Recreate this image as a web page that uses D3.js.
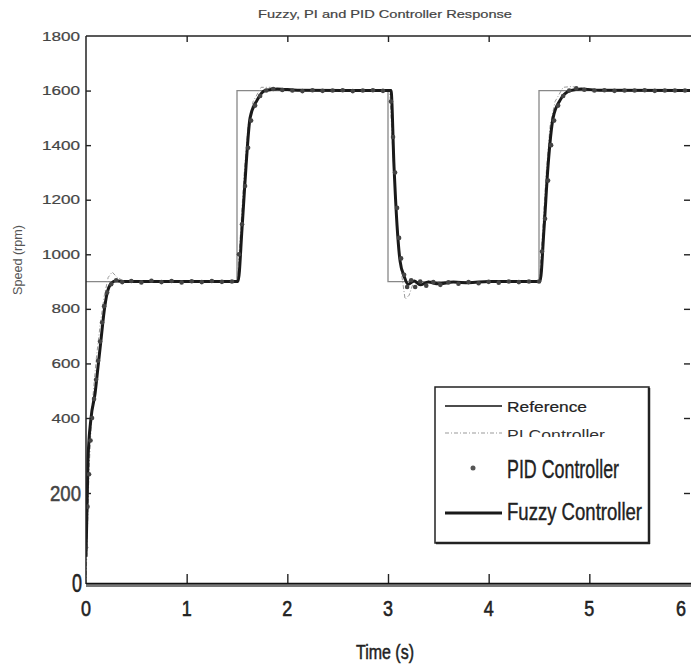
<!DOCTYPE html>
<html><head><meta charset="utf-8">
<script src="https://cdn.jsdelivr.net/npm/d3@7"></script>
<style>body{margin:0;background:#fff}svg{display:block}</style>
</head><body>
<svg id="c" width="691" height="665"></svg>
<script>
// ---- data ----
const xTicks = [0, 1, 2, 3, 4, 5, 6];
const yTicks = [0, 200, 400, 600, 800, 1000, 1200, 1400, 1600, 1800];
const refTimes = [0, 1.5, 3, 4.5, 6];
const refValues = [900, 1600, 900, 1600, 1600];
const fuzzySeries = [[0,60],[0.02,290],[0.05,400],[0.09,490],[0.12,590],[0.15,690],[0.18,790],[0.21,858],[0.25,893],[0.3,903],[0.38,900],[1.51,900],[1.55,1095],[1.59,1325],[1.63,1500],[1.70,1565],[1.78,1600],[1.9,1606],[2.1,1601],[3.03,1600],[3.06,1320],[3.09,1105],[3.12,975],[3.16,920],[3.2,890],[3.26,902],[3.32,888],[3.4,898],[3.5,892],[3.65,898],[3.8,896],[4.0,900],[4.51,900],[4.55,1095],[4.59,1325],[4.64,1500],[4.71,1565],[4.81,1600],[4.92,1606],[5.1,1601],[6,1600]];
const piSeries = [[0,0],[0.03,260],[0.06,440],[0.1,610],[0.14,740],[0.18,845],[0.22,915],[0.26,935],[0.31,915],[0.4,897],[0.5,901],[1.5,900],[1.53,1050],[1.57,1290],[1.61,1470],[1.66,1560],[1.74,1612],[1.83,1612],[1.95,1601],[3.0,1600],[3.02,1580],[3.05,1360],[3.09,1110],[3.13,940],[3.17,835],[3.21,850],[3.26,905],[3.32,893],[3.4,902],[3.5,899],[4.5,900],[4.53,1050],[4.57,1290],[4.61,1470],[4.66,1560],[4.74,1612],[4.83,1615],[4.95,1601],[6,1600]];
const pidSeries = [[0,80],[0.015,170],[0.03,250],[0.045,340],[0.06,400],[0.08,470],[0.10,540],[0.12,610],[0.14,680],[0.16,750],[0.18,810],[0.21,860],[0.25,890],[0.3,905],[0.36,898],[0.45,902],[0.55,897],[0.65,903],[0.75,898],[0.85,902],[0.95,897],[1.05,901],[1.15,898],[1.25,902],[1.35,899],[1.45,900],[1.52,1000],[1.55,1110],[1.58,1250],[1.61,1390],[1.64,1490],[1.68,1545],[1.73,1580],[1.79,1600],[1.86,1606],[1.95,1602],[2.05,1600],[2.15,1598],[2.25,1601],[2.35,1599],[2.45,1600],[2.55,1601],[2.65,1598],[2.75,1600],[2.85,1601],[2.95,1599],[3.03,1560],[3.05,1430],[3.07,1300],[3.09,1170],[3.11,1060],[3.13,985],[3.16,925],[3.19,880],[3.23,905],[3.27,880],[3.32,900],[3.38,885],[3.45,898],[3.52,888],[3.6,897],[3.7,892],[3.8,898],[3.9,894],[4.0,899],[4.1,896],[4.2,900],[4.3,898],[4.4,900],[4.5,900],[4.53,1010],[4.56,1130],[4.59,1270],[4.62,1400],[4.65,1490],[4.69,1545],[4.74,1580],[4.8,1600],[4.87,1608],[4.95,1603],[5.05,1600],[5.15,1601],[5.25,1599],[5.35,1600],[5.45,1600],[5.55,1601],[5.65,1599],[5.75,1600],[5.85,1600],[5.95,1600]];
const legendLabels = ["Reference", "PI Controller", "PID Controller", "Fuzzy Controller"];
const titleText = "Fuzzy, PI and PID Controller Response";
const xLabel = "Time (s)";
const yLabel = "Speed (rpm)";

// ---- drawing ----
const svg = d3.select("#c");
svg.append("rect").attr("width",691).attr("height",665).attr("fill","#fff");
const L = 86, R = 690, T = 36, B = 584;
const x = d3.scaleLinear().domain([0, 6]).range([L, R]);
// the scanned figure's vertical scale is compressed differently below 400
const y = d3.scaleLinear().domain([0, 200, 400, 1800]).range([B, 493, 418, T]);

svg.append("clipPath").attr("id","pc").append("rect").attr("x",L).attr("y",T).attr("width",R-L+2).attr("height",B-T);

const g = svg.append("g").attr("clip-path","url(#pc)");
const refLine = d3.line().curve(d3.curveStepAfter).x(d => x(d[0])).y(d => y(d[1]));
g.append("path").datum(refTimes.map((t,i)=>[t, refValues[i]]))
  .attr("d", refLine).attr("fill","none").attr("stroke","#888").attr("stroke-width",1.3);
const ln = d3.line().x(d => x(d[0])).y(d => y(d[1]));
g.append("path").datum(piSeries).attr("d", ln).attr("fill","none")
  .attr("stroke","#999").attr("stroke-width",1).attr("stroke-dasharray","4,2,1,2");
g.append("path").datum(fuzzySeries).attr("d", ln.curve(d3.curveMonotoneX)).attr("fill","none")
  .attr("stroke","#1a1a1a").attr("stroke-width",3).attr("stroke-linejoin","round");
g.selectAll("circle.pid").data(pidSeries).join("circle").attr("class","pid")
  .attr("cx", d => x(d[0])).attr("cy", d => y(d[1])).attr("r", 2.3).attr("fill","#444");

const axL = svg.append("g").attr("transform",`translate(${L},0)`)
  .call(d3.axisLeft(y).tickValues(yTicks.slice(1,-1)).tickSize(-5).tickFormat(""));
const axR = svg.append("g").attr("transform",`translate(${R},0)`)
  .call(d3.axisRight(y).tickValues(yTicks.slice(1,-2)).tickSize(-6).tickFormat(""));
const axT = svg.append("g").attr("transform",`translate(0,${T})`)
  .call(d3.axisTop(x).tickValues(xTicks.slice(1,-1)).tickSize(-6).tickFormat(""));
const axB = svg.append("g").attr("transform",`translate(0,${B})`)
  .call(d3.axisBottom(x).tickValues(xTicks.slice(1,-1)).tickSize(-10).tickFormat(""));
[axL, axR, axT, axB].forEach(a => {
  a.select(".domain").remove();
  a.selectAll("line").attr("stroke","#222").attr("stroke-width",1.4);
});
svg.append("line").attr("x1",L).attr("x2",L).attr("y1",T).attr("y2",B).attr("stroke","#222").attr("stroke-width",1.5);
svg.append("line").attr("x1",L).attr("x2",691).attr("y1",T).attr("y2",T).attr("stroke","#222").attr("stroke-width",1.5);
svg.append("line").attr("x1",L).attr("x2",691).attr("y1",B+1).attr("y2",B+1).attr("stroke","#777").attr("stroke-width",4);
svg.append("line").attr("x1",L).attr("x2",691).attr("y1",B-0.5).attr("y2",B-0.5).attr("stroke","#111").attr("stroke-width",1.5);

function txt(s, px, py, size, len, anchor, fill, heavy) {
  const t = svg.append("text").attr("x",px).attr("y",py).attr("font-size",size)
    .attr("font-family","'Liberation Sans', Arial, sans-serif").attr("fill",fill||"#333")
    .attr("text-anchor",anchor||"start").text(s);
  if (len) t.attr("textLength",len).attr("lengthAdjust","spacingAndGlyphs");
  if (heavy) t.attr("stroke",fill||"#333").attr("stroke-width",heavy);
  return t;
}

yTicks.forEach(v => {
  const s = String(v);
  if (v === 0) txt(s, 82, y(v)+8, 26, 10, "end", "#222", 0.6);
  else if (v === 200) txt(s, 81, y(v)+8, 22, 31, "end", "#444", 0.5);
  else txt(s, 80, y(v)+4.5, 12.5, s.length*9.5, "end", "#444", 0.2);
});
xTicks.forEach(v => {
  if (v === 6) txt(String(v), 686, 616, 22, 10, "end", "#222", 0.6);
  else txt(String(v), x(v), 616, 22, 10, "middle", "#222", 0.6);
});

txt(titleText, 385, 18, 11.5, 254, "middle", "#444", 0.2);
txt(xLabel, 385, 659, 20, 58, "middle", "#222", 0.5);
svg.append("text").attr("transform","translate(22,260) rotate(-90)")
  .attr("font-size",12).attr("font-family","'Liberation Sans', Arial, sans-serif")
  .attr("fill","#555").attr("text-anchor","middle")
  .attr("textLength",70).attr("lengthAdjust","spacingAndGlyphs").text(yLabel);

const lg = svg.append("g");
lg.append("rect").attr("x",435).attr("y",387).attr("width",214).attr("height",156)
  .attr("fill","#fff").attr("stroke","#222").attr("stroke-width",1.5);
lg.append("line").attr("x1",436).attr("x2",650).attr("y1",543).attr("y2",543).attr("stroke","#222").attr("stroke-width",2.5);
lg.append("line").attr("x1",649).attr("x2",649).attr("y1",388).attr("y2",544).attr("stroke","#222").attr("stroke-width",2.5);
lg.append("line").attr("x1",445).attr("x2",502).attr("y1",406).attr("y2",406).attr("stroke","#111").attr("stroke-width",1.5);
lg.append("line").attr("x1",445).attr("x2",502).attr("y1",433).attr("y2",433).attr("stroke","#999").attr("stroke-width",1).attr("stroke-dasharray","4,2,1,2");
lg.append("circle").attr("cx",473).attr("cy",468).attr("r",2.5).attr("fill","#555");
lg.append("line").attr("x1",445).attr("x2",502).attr("y1",513).attr("y2",513).attr("stroke","#1a1a1a").attr("stroke-width",3);
svg.append("clipPath").attr("id","lc").append("rect").attr("x",500).attr("y",420).attr("width",140).attr("height",17);
txt(legendLabels[0], 507, 412, 14, 80, "start", "#222", 0.2);
txt(legendLabels[1], 507, 440, 14, 98, "start", "#333").attr("clip-path","url(#lc)");
txt(legendLabels[2], 507, 478, 26, 112, "start", "#222", 0.4);
txt(legendLabels[3], 507, 520, 23, 135, "start", "#222", 0.4);
</script>
</body></html>
